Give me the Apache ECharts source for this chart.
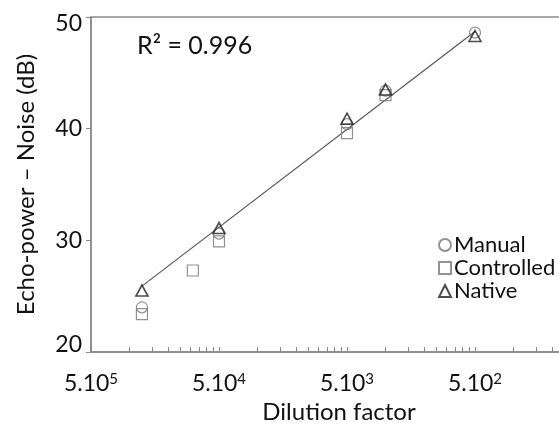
<!DOCTYPE html>
<html>
<head>
<meta charset="utf-8">
<script src="https://cdn.jsdelivr.net/npm/echarts@6/dist/echarts.min.js"></script>
<style>html,body{margin:0;padding:0;background:#fff;overflow:hidden}#c{width:559px;height:425px}</style>
</head>
<body>
<div id="c"></div>
<script>
// Dilution factors (x) and echo-power minus noise (dB)
const manualX = [2e5, 5e4, 5e3, 2.5e3, 5e2];
const manualY = [24.0, 30.6, 40.4, 43.4, 48.6];
const controlledX = [2e5, 8e4, 5e4, 5e3, 2.5e3];
const controlledY = [23.4, 27.3, 29.9, 39.6, 43.0];
const nativeX = [2e5, 5e4, 5e3, 2.5e3, 5e2];
const nativeY = [25.5, 31.1, 40.9, 43.5, 48.3];
const fitX = [2e5, 5e2];
const fitY = [25.9, 48.7];
const majorTicks = [5e5, 5e4, 5e3, 5e2];
const yTicks = [20, 30, 40, 50];
const r2Text = 'R\u00B2 = 0.996';

const FONT = 'Lato';
const TXT = '#111';
const pair = (xs, ys) => xs.map((x, i) => [x, ys[i]]);
const minorTicks = [];
for (let k = 0; k < 4; k++) for (let m = 1; m <= 10; m++) minorTicks.push(5e5 / (m * Math.pow(10, k)));

const chart = echarts.init(document.getElementById('c'));
const hollow = c => ({ color: 'rgba(255,255,255,0)', borderColor: c, borderWidth: 1.2 });
chart.setOption({
  animation: false,
  textStyle: { fontFamily: FONT },
  grid: { left: 91, width: 512, top: 17, height: 335, outerBoundsMode: 'none', containLabel: false, show: true, borderColor: '#8a8a8a', borderWidth: 1.5 },
  legend: {
    orient: 'vertical', left: 433, top: 229, itemGap: 1, itemWidth: 12, itemHeight: 12,
    textStyle: { fontFamily: FONT, fontSize: 22, color: TXT, padding: [0, 0, 0, -2] },
    data: ['Manual', 'Controlled', 'Native']
  },
  xAxis: {
    type: 'log', logBase: 10, min: 50, max: 5e5, inverse: true,
    name: 'Dilution factor', nameLocation: 'middle', nameGap: 42,
    nameTextStyle: { fontFamily: FONT, fontSize: 24, color: TXT, padding: [0, 16, 0, 0] },
    axisLine: { lineStyle: { color: '#8a8a8a', width: 1.5 } },
    axisTick: { inside: true, length: 5, customValues: minorTicks, lineStyle: { color: '#8a8a8a' } },
    splitLine: { show: false },
    minorTick: { show: false },
    axisLabel: {
      customValues: majorTicks, margin: 20,
      formatter: v => '{b|5.10}{s|' + Math.round(Math.log10(v / 5)) + '}',
      rich: { b: { fontFamily: FONT, fontSize: 23, color: TXT }, s: { fontFamily: FONT, fontSize: 15, color: TXT, verticalAlign: 'top', padding: [0, 0, 8, 0] } }
    }
  },
  yAxis: {
    type: 'value', min: 20, max: 50, interval: 10,
    name: 'Echo-power \u2013 Noise (dB)', nameLocation: 'middle', nameGap: 53,
    nameTextStyle: { fontFamily: FONT, fontSize: 24, color: TXT },
    axisLine: { show: true, lineStyle: { color: '#8a8a8a', width: 1.5 } },
    axisTick: { show: true, length: 5, lineStyle: { color: '#8a8a8a' } },
    splitLine: { show: false },
    axisLabel: {
      margin: 9,
      formatter: v => v === 50 ? '{t|' + v + '}' : (v === 20 ? '{u|' + v + '}' : '{n|' + v + '}'),
      rich: {
        n: { fontFamily: FONT, fontSize: 23, color: TXT },
        t: { fontFamily: FONT, fontSize: 23, color: TXT, padding: [14, 0, 0, 0] },
        u: { fontFamily: FONT, fontSize: 23, color: TXT, padding: [0, 0, 14, 0] }
      }
    }
  },
  graphic: [{ type: 'text', left: 137, top: 33, style: { text: r2Text, font: '25px ' + FONT, fill: TXT } }],
  series: [
    { name: 'Fit', type: 'line', data: pair(fitX, fitY), symbol: 'none', lineStyle: { color: '#555', width: 1.2 }, z: 1 },
    { name: 'Manual', type: 'scatter', data: pair(manualX, manualY), symbol: 'circle', symbolSize: 11, itemStyle: hollow('#777'), z: 2 },
    { name: 'Controlled', type: 'scatter', data: pair(controlledX, controlledY), symbol: 'rect', symbolSize: 11, itemStyle: hollow('#777'), z: 3 },
    { name: 'Native', type: 'scatter', data: pair(nativeX, nativeY), symbol: 'triangle', symbolSize: [12, 11], itemStyle: { color: 'rgba(255,255,255,0)', borderColor: '#222', borderWidth: 1.6 }, z: 4 }
  ]
});
</script>
</body>
</html>
